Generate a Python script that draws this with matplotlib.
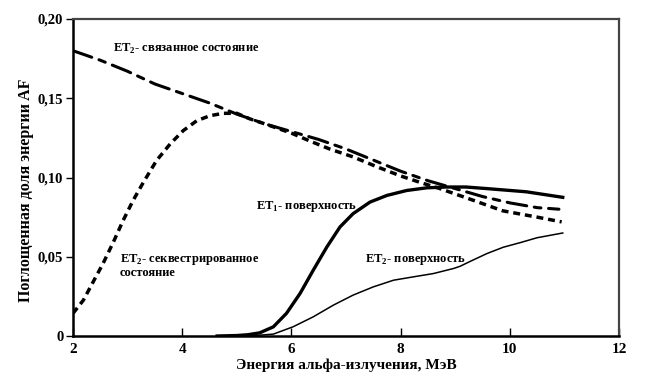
import matplotlib
matplotlib.use("Agg")
import matplotlib.pyplot as plt

# Данные
bound_x = [2.0, 2.5, 3.0, 3.5, 4.0, 4.5, 5.0, 5.5, 6.0, 6.5, 7.0, 7.5, 8.0, 8.5, 9.0, 9.5, 10.0, 10.5, 10.9]
bound_y = [0.180, 0.174, 0.167, 0.159, 0.153, 0.147, 0.140, 0.134, 0.129, 0.124, 0.118, 0.111, 0.104, 0.098, 0.093, 0.088, 0.084, 0.081, 0.080]

seq_x = [2.0, 2.19, 2.37, 2.55, 2.74, 2.92, 3.10, 3.29, 3.53, 3.78, 4.02, 4.27, 4.51, 4.75, 5.0, 5.24,
         5.5, 6.0, 6.34, 6.7, 7.13, 7.55, 8.0, 8.35, 8.72, 9.3, 9.87, 10.5, 10.95]
seq_y = [0.0143, 0.0226, 0.0342, 0.0457, 0.0593, 0.073, 0.0855, 0.097, 0.1107, 0.1212, 0.1296, 0.1359, 0.139, 0.1405, 0.1405, 0.137,
         0.134, 0.128, 0.123, 0.118, 0.113, 0.107, 0.101, 0.097, 0.093, 0.086, 0.079, 0.075, 0.072]

et1_x = [4.64, 5.0, 5.2, 5.42, 5.67, 5.91, 6.16, 6.40, 6.65, 6.89, 7.13, 7.44, 7.75, 8.11, 8.48, 8.84, 9.2, 9.58, 10.3, 10.97]
et1_y = [0.0, 0.0003, 0.0008, 0.002, 0.0058, 0.0143, 0.0269, 0.0415, 0.0562, 0.0688, 0.0772, 0.0845, 0.0887, 0.0918, 0.0935, 0.094, 0.094, 0.093, 0.091, 0.0875]

et2_x = [4.9, 5.3, 5.67, 6.03, 6.40, 6.77, 7.13, 7.50, 7.87, 8.23, 8.60, 8.97, 9.09, 9.27, 9.58, 9.88, 10.2, 10.5, 10.97]
et2_y = [0.0, 0.0002, 0.0012, 0.0058, 0.0121, 0.0195, 0.0258, 0.031, 0.0352, 0.0373, 0.0394, 0.0426, 0.044, 0.047, 0.052, 0.056, 0.059, 0.062, 0.065]

x_ticks = [2, 4, 6, 8, 10, 12]
y_ticks = [0, 0.05, 0.10, 0.15, 0.20]
y_tick_labels = ['0', '0,05', '0,10', '0,15', '0,20']

plt.rcParams['font.family'] = ['Liberation Serif', 'DejaVu Serif']
plt.rcParams['mathtext.fontset'] = 'custom'
plt.rcParams['mathtext.rm'] = 'Liberation Serif'
plt.rcParams['mathtext.bf'] = 'Liberation Serif:bold'

fig = plt.figure(figsize=(6.5, 3.88), dpi=100)
ax = fig.add_axes([0.1123, 0.134, 0.8400, 0.817])

ax.plot(bound_x, bound_y, color='black', lw=2.2, dashes=(6.5, 2.5, 2.2, 2.5), dash_capstyle='round')
ax.plot(seq_x, seq_y, color='black', lw=2.5, dashes=(2.0, 1.4))
ax.plot(et1_x, et1_y, color='black', lw=2.4, solid_joinstyle='round')
ax.plot(et2_x, et2_y, color='black', lw=1.1, solid_joinstyle='round')

ax.set_xlim(2, 12)
ax.set_ylim(0, 0.20)
ax.set_xticks(x_ticks)
ax.set_xticklabels([str(t) for t in x_ticks], fontweight='bold', fontsize=11)
ax.set_yticks(y_ticks)
ax.set_yticklabels(y_tick_labels, fontweight='bold', fontsize=10.5)
ax.tick_params(axis='x', direction='in', length=6, width=1, pad=5)
ax.tick_params(axis='y', direction='out', length=5, width=1, pad=2)

for s in ['left', 'bottom']:
    ax.spines[s].set_linewidth(1.8)
for s in ['top', 'right']:
    ax.spines[s].set_linewidth(1.6)
    ax.spines[s].set_color('#444444')

ax.set_xlabel('Энергия альфа-излучения, МэВ', fontweight='bold', fontsize=11, labelpad=2)
ax.set_ylabel('Поглощенная доля энергии AF', fontweight='bold', fontsize=11.5)
ax.yaxis.set_label_coords(-0.072, 0.46)

fs = 9
ax.text(2.73, 0.181, 'ET$_\\mathbf{2}$- связанное состояние', fontweight='bold', fontsize=fs, va='center')
ax.text(2.86, 0.0445, 'ET$_\\mathbf{2}$- секвестрированное\nсостояние', fontweight='bold', fontsize=fs,
        va='center', linespacing=0.9)
ax.text(5.35, 0.082, 'ET$_\\mathbf{1}$- поверхность', fontweight='bold', fontsize=fs, va='center')
ax.text(7.35, 0.048, 'ET$_\\mathbf{2}$- поверхность', fontweight='bold', fontsize=fs, va='center')

plt.savefig('out.png', dpi=100)
